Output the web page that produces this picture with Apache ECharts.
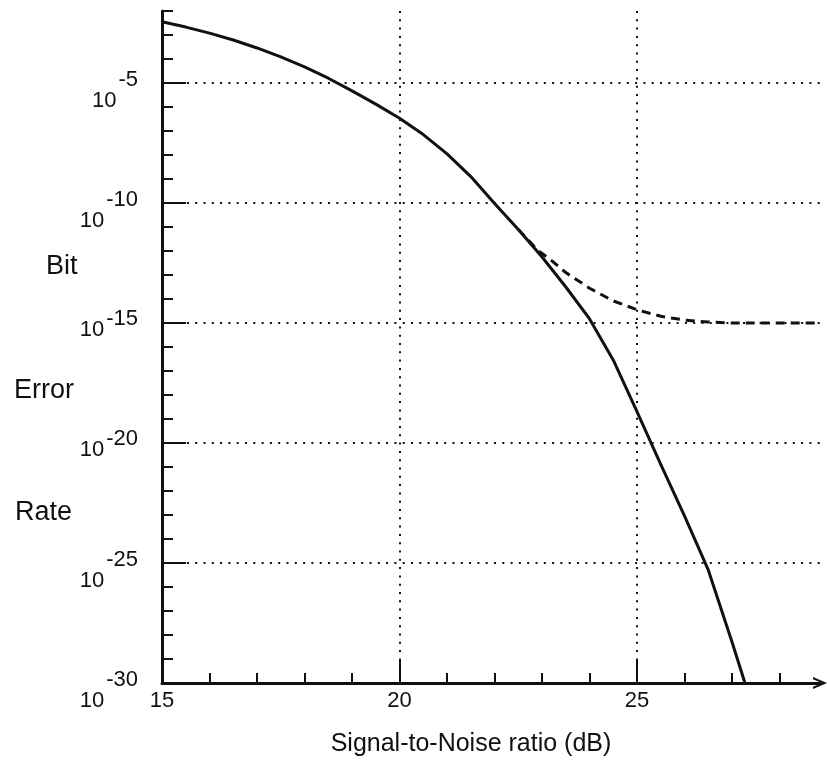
<!DOCTYPE html>
<html>
<head>
<meta charset="utf-8">
<script src="https://cdn.jsdelivr.net/npm/echarts@6/dist/echarts.min.js"></script>
<style>
  html, body { margin: 0; padding: 0; background: #fff; }
  #chart { width: 827px; height: 762px; }
</style>
</head>
<body>
<div id="chart"></div>
<script>
// Bit error rate versus SNR, stored as log10(BER)
const snrSolid = [15.0, 15.5, 16.0, 16.5, 17.0, 17.5, 18.0, 18.5, 19.0, 19.5, 20.0, 20.5, 21.0, 21.5, 22.0, 22.5, 23.0, 23.5, 24.0, 24.5, 25.0, 25.5, 26.0, 26.5, 27.0, 27.27];
const log10BerSolid = [-2.45, -2.67, -2.92, -3.21, -3.54, -3.91, -4.33, -4.8, -5.33, -5.88, -6.47, -7.15, -7.95, -8.9, -10.02, -11.1, -12.25, -13.5, -14.83, -16.55, -18.7, -20.9, -23.05, -25.3, -28.3, -30.0];

// Curve with an error floor near 1e-15
const snrDashed = [22.5, 22.9, 23.2, 23.5, 24.0, 24.5, 25.0, 25.5, 26.0, 26.5, 27.0, 28.85];
const log10BerDashed = [-11.1, -11.95, -12.4, -12.9, -13.55, -14.08, -14.45, -14.72, -14.88, -14.96, -15.0, -15.0];

// Axis ticks
const xMinorTicks = [15, 16, 17, 18, 19, 20, 21, 22, 23, 24, 25, 26, 27, 28];
const xMajorTicks = [15, 20, 25];
const yMinorTicks = [-30, -29, -28, -27, -26, -25, -24, -23, -22, -21, -20, -19, -18, -17, -16, -15, -14, -13, -12, -11, -10, -9, -8, -7, -6, -5, -4, -3, -2];
const yMajorTicks = [-30, -25, -20, -15, -10, -5];
const yLabelsInline = [-15, -20];

const FONT = "'Liberation Sans', Arial, Helvetica, sans-serif";
const INK = '#111';

function pairs(xs, ys) {
  return xs.map((x, i) => [x, ys[i]]);
}

const chart = echarts.init(document.getElementById('chart'), null, { renderer: 'canvas' });

const dotted = { color: INK, width: 2, type: [2, 6.3] };

const option = {
  backgroundColor: '#fff',
  animation: false,
  grid: { left: 162, right: 7, top: 11, bottom: 79, containLabel: false, outerBoundsMode: 'none' },
  xAxis: [
    {
      type: 'value', min: 15, max: 28.85, position: 'bottom',
      axisLine: {
        show: true, onZero: false,
        lineStyle: { color: INK, width: 3 },
        symbol: ['none', 'path://M0,14 L6,0 L12,14 L9.8,14 L6,5.13 L2.2,14 Z'],
        symbolSize: [12, 14]
      },
      axisTick: { show: true, inside: true, length: 10, lineStyle: { color: INK, width: 2 }, customValues: xMinorTicks },
      axisLabel: { show: false },
      splitLine: { show: false }
    },
    {
      type: 'value', min: 15, max: 28.85, position: 'bottom',
      name: 'Signal-to-Noise ratio (dB)', nameLocation: 'middle', nameGap: 49,
      nameTextStyle: { fontFamily: FONT, fontSize: 25, color: INK, padding: [0, 40, 0, 0] },
      axisLine: { show: false, onZero: false },
      axisTick: { show: true, inside: true, length: 24, lineStyle: { color: INK, width: 2 }, customValues: xMajorTicks },
      axisLabel: { show: true, customValues: xMajorTicks, margin: 7, fontFamily: FONT, fontSize: 22, color: INK },
      splitLine: { show: true, lineStyle: dotted }
    }
  ],
  yAxis: [
    {
      type: 'value', min: -30, max: -2, position: 'left',
      axisLine: { show: true, onZero: false, lineStyle: { color: INK, width: 3 } },
      axisTick: { show: true, inside: true, length: 11, lineStyle: { color: INK, width: 2 }, customValues: yMinorTicks },
      axisLabel: { show: false },
      splitLine: { show: false }
    },
    {
      type: 'value', min: -30, max: -2, position: 'left',
      axisLine: { show: false, onZero: false },
      axisTick: { show: true, inside: true, length: 24, lineStyle: { color: INK, width: 2 }, customValues: yMajorTicks },
      axisLabel: {
        show: true, customValues: yMajorTicks, margin: 24, align: 'right',
        fontFamily: FONT, fontSize: 22, color: INK,
        formatter: function (v) {
          const g = yLabelsInline.indexOf(v) >= 0 ? 'B' : 'A';
          return '{s' + g + '|\u200b}{b' + g + '|10}{e' + g + '|' + String(v) + '}';
        },
        rich: {
          // base "10" sits low, exponent raised
          sA: { lineHeight: 58, width: 0, fontSize: 1 },
          bA: { fontFamily: FONT, fontSize: 22, color: INK, verticalAlign: 'bottom' },
          eA: { fontFamily: FONT, fontSize: 22, color: INK, verticalAlign: 'top', padding: [15, 0, 0, 2] },
          // base "10" close to its exponent
          sB: { lineHeight: 36, width: 0, fontSize: 1 },
          bB: { fontFamily: FONT, fontSize: 22, color: INK, verticalAlign: 'bottom' },
          eB: { fontFamily: FONT, fontSize: 22, color: INK, verticalAlign: 'top', padding: [3, 0, 0, 2] }
        }
      },
      splitLine: { show: true, lineStyle: dotted }
    }
  ],
  graphic: [
    { type: 'text', left: 46, top: 253, style: { text: 'Bit', font: '27px ' + FONT, fill: INK } },
    { type: 'text', left: 14, top: 377, style: { text: 'Error', font: '27px ' + FONT, fill: INK } },
    { type: 'text', left: 15, top: 499, style: { text: 'Rate', font: '27px ' + FONT, fill: INK } }
  ],
  series: [
    {
      type: 'line', name: 'floor', xAxisIndex: 0, yAxisIndex: 0,
      data: pairs(snrDashed, log10BerDashed),
      showSymbol: false, symbol: 'none', z: 3,
      lineStyle: { color: INK, width: 3, type: [9, 6] }
    },
    {
      type: 'line', name: 'ber', xAxisIndex: 0, yAxisIndex: 0,
      data: pairs(snrSolid, log10BerSolid),
      showSymbol: false, symbol: 'none', z: 4,
      lineStyle: { color: INK, width: 3, join: 'round' }
    }
  ]
};

chart.setOption(option);
</script>
</body>
</html>
